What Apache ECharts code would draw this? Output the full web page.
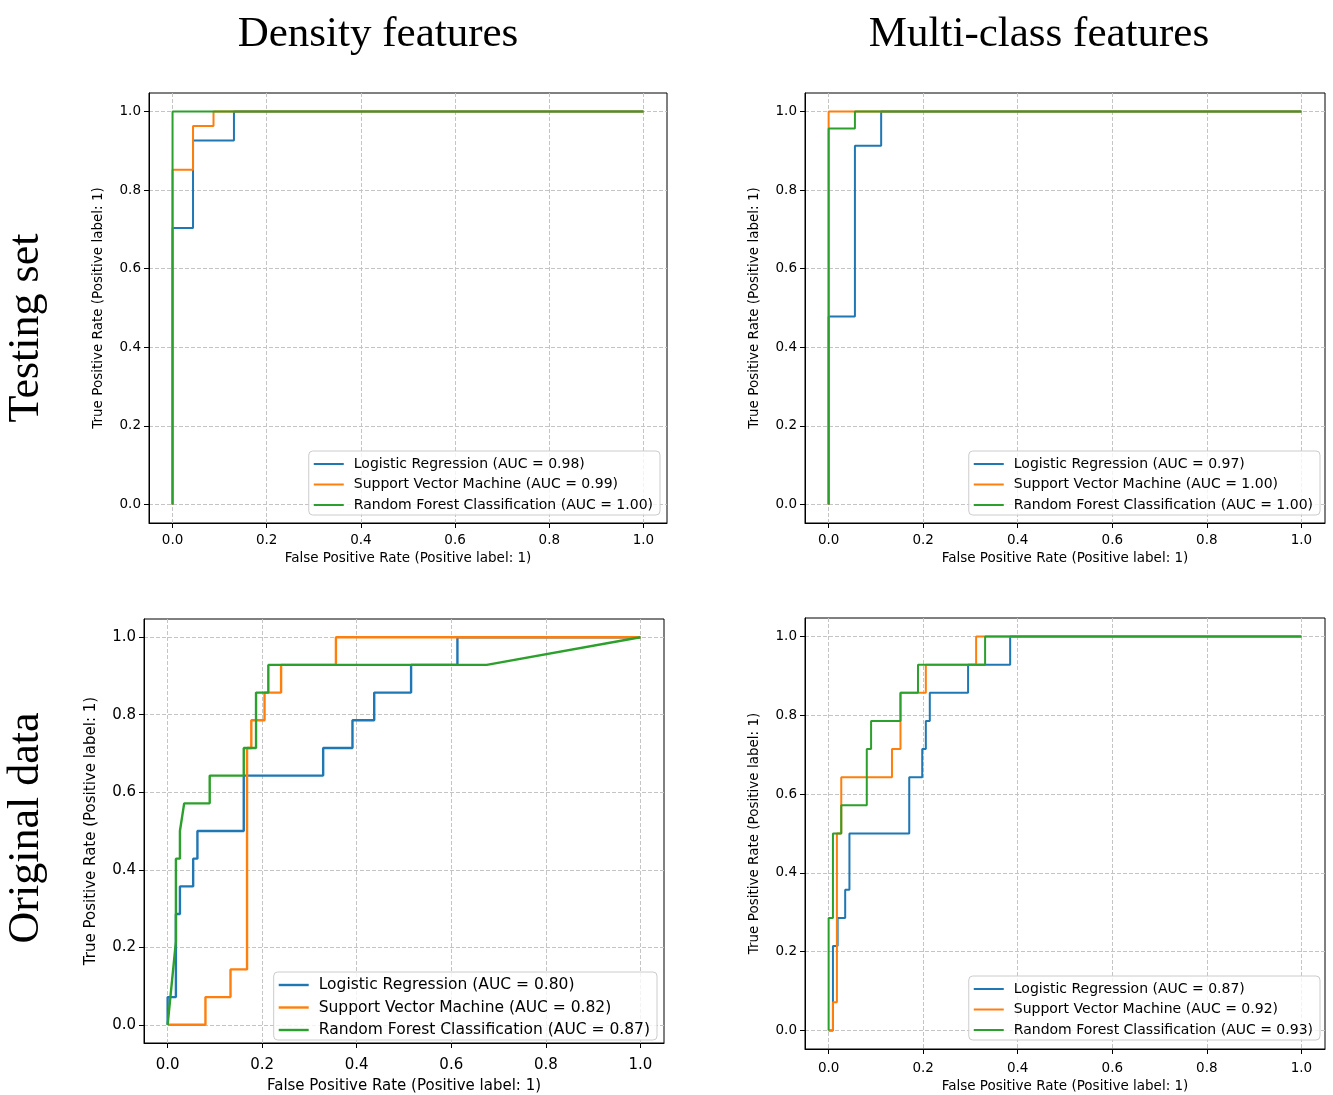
<!DOCTYPE html>
<html><head><meta charset="utf-8">
<script src="https://cdn.jsdelivr.net/npm/echarts@6/dist/echarts.min.js"></script>
<style>html,body{margin:0;padding:0;background:#fff}#c{width:1333px;height:1095px}</style>
</head><body><div id="c"></div>
<script>
// ---- data ----
const tickValues = [0, 0.2, 0.4, 0.6, 0.8, 1.0];
const colTitles = ['Density features', 'Multi-class features'];
const rowTitles = ['Testing set', 'Original data'];
const xName = 'False Positive Rate (Positive label: 1)';
const yName = 'True Positive Rate (Positive label: 1)';

// Testing set / Density features
const tlNames = ['Logistic Regression (AUC = 0.98)', 'Support Vector Machine (AUC = 0.99)', 'Random Forest Classification (AUC = 1.00)'];
const tlLrFpr = [0, 0, 0.0435, 0.0435, 0.1304, 0.1304, 1];
const tlLrTpr = [0, 0.7037, 0.7037, 0.9259, 0.9259, 1, 1];
const tlSvmFpr = [0, 0, 0.0435, 0.0435, 0.087, 0.087, 1];
const tlSvmTpr = [0, 0.8519, 0.8519, 0.963, 0.963, 1, 1];
const tlRfFpr = [0, 0, 1];
const tlRfTpr = [0, 1, 1];

// Testing set / Multi-class features
const trNames = ['Logistic Regression (AUC = 0.97)', 'Support Vector Machine (AUC = 1.00)', 'Random Forest Classification (AUC = 1.00)'];
const trLrFpr = [0, 0, 0.0556, 0.0556, 0.1111, 0.1111, 1];
const trLrTpr = [0, 0.4783, 0.4783, 0.913, 0.913, 1, 1];
const trSvmFpr = [0, 0, 1];
const trSvmTpr = [0, 1, 1];
const trRfFpr = [0, 0, 0.0556, 0.0556, 1];
const trRfTpr = [0, 0.9565, 0.9565, 1, 1];

// Original data / Density features
const blNames = ['Logistic Regression (AUC = 0.80)', 'Support Vector Machine (AUC = 0.82)', 'Random Forest Classification (AUC = 0.87)'];
const blLrFpr = [0, 0, 0.0175, 0.0175, 0.026, 0.026, 0.054, 0.054, 0.063, 0.063, 0.161, 0.161, 0.329, 0.329, 0.391, 0.391, 0.437, 0.437, 0.515, 0.515, 0.613, 0.613, 1];
const blLrTpr = [0, 0.0714, 0.0714, 0.2857, 0.2857, 0.3571, 0.3571, 0.4286, 0.4286, 0.5, 0.5, 0.6429, 0.6429, 0.7143, 0.7143, 0.7857, 0.7857, 0.8571, 0.8571, 0.9286, 0.9286, 1, 1];
const blSvmFpr = [0, 0.08, 0.08, 0.133, 0.133, 0.168, 0.168, 0.177, 0.177, 0.205, 0.205, 0.24, 0.24, 0.356, 0.356, 1];
const blSvmTpr = [0, 0, 0.0714, 0.0714, 0.1429, 0.1429, 0.7143, 0.7143, 0.7857, 0.7857, 0.8571, 0.8571, 0.9286, 0.9286, 1, 1];
const blRfFpr = [0, 0.0175, 0.0175, 0.026, 0.026, 0.035, 0.089, 0.089, 0.161, 0.161, 0.187, 0.187, 0.213, 0.213, 0.675, 1];
const blRfTpr = [0, 0.2143, 0.4286, 0.4286, 0.5, 0.5714, 0.5714, 0.6429, 0.6429, 0.7143, 0.7143, 0.8571, 0.8571, 0.9286, 0.9286, 1];

// Original data / Multi-class features
const brNames = ['Logistic Regression (AUC = 0.87)', 'Support Vector Machine (AUC = 0.92)', 'Random Forest Classification (AUC = 0.93)'];
const brLrFpr = [0, 0.0091, 0.0091, 0.019, 0.019, 0.035, 0.035, 0.044, 0.044, 0.1705, 0.1705, 0.198, 0.198, 0.2056, 0.2056, 0.214, 0.214, 0.295, 0.295, 0.384, 0.384, 1];
const brLrTpr = [0, 0, 0.2143, 0.2143, 0.2857, 0.2857, 0.3571, 0.3571, 0.5, 0.5, 0.6429, 0.6429, 0.7143, 0.7143, 0.7857, 0.7857, 0.8571, 0.8571, 0.9286, 0.9286, 1, 1];
const brSvmFpr = [0, 0.0091, 0.0091, 0.0175, 0.0175, 0.0267, 0.0267, 0.134, 0.134, 0.152, 0.152, 0.2056, 0.2056, 0.312, 0.312, 1];
const brSvmTpr = [0, 0, 0.0714, 0.0714, 0.5, 0.5, 0.6429, 0.6429, 0.7143, 0.7143, 0.8571, 0.8571, 0.9286, 0.9286, 1, 1];
const brRfFpr = [0, 0, 0.0091, 0.0091, 0.0267, 0.0267, 0.0807, 0.0807, 0.0898, 0.0898, 0.152, 0.152, 0.189, 0.189, 0.331, 0.331, 1];
const brRfTpr = [0, 0.2857, 0.2857, 0.5, 0.5, 0.5714, 0.5714, 0.7143, 0.7143, 0.7857, 0.7857, 0.8571, 0.8571, 0.9286, 0.9286, 1, 1];

const colors = ['#1f77b4', '#ff7f0e', '#2ca02c'];

// ---- layout ----
const panels = [
  {grid: {left: 149, top: 93, width: 518, height: 430}, fs: 13.5, lfs: 14, lw: 2, names: tlNames,
   curves: [[tlLrFpr, tlLrTpr], [tlSvmFpr, tlSvmTpr], [tlRfFpr, tlRfTpr]],
   legend: {right: 673, bottom: 580}, yGap: 44, xMargin: 10, xGap: 28, pitch: 20.5},
  {grid: {left: 805, top: 93, width: 520, height: 430}, fs: 13.5, lfs: 14, lw: 2, names: trNames,
   curves: [[trLrFpr, trLrTpr], [trSvmFpr, trSvmTpr], [trRfFpr, trRfTpr]],
   legend: {right: 13, bottom: 580}, yGap: 44, xMargin: 10, xGap: 28, pitch: 20.5},
  {grid: {left: 144, top: 619, width: 520, height: 430}, fs: 15, lfs: 15.5, lw: 2.4, names: blNames,
   curves: [[blLrFpr, blLrTpr], [blSvmFpr, blSvmTpr], [blRfFpr, blRfTpr]],
   legend: {right: 676, bottom: 55}, yGap: 45, xMargin: 15, xGap: 36, pitch: 22.5},
  {grid: {left: 805, top: 618, width: 520, height: 431}, fs: 13.5, lfs: 14, lw: 2, names: brNames,
   curves: [[brLrFpr, brLrTpr], [brSvmFpr, brSvmTpr], [brRfFpr, brRfTpr]],
   legend: {right: 13, bottom: 55}, yGap: 44, xMargin: 12, xGap: 30, pitch: 20.5}
];

const FONT = 'DejaVu Sans';
const fmt = v => Number(v).toFixed(1);
const grids = [], xAxes = [], yAxes = [], series = [], legends = [];
panels.forEach((p, i) => {
  grids.push(Object.assign({show: true, borderColor: '#000', borderWidth: 1, backgroundColor: '#fff'}, p.grid));
  const common = {
    gridIndex: i, type: 'value',
    axisLine: {show: true, onZero: false, lineStyle: {color: '#000', width: 1}},
    axisTick: {show: true, inside: false, length: 5, customValues: tickValues, lineStyle: {color: '#000'}},
    axisLabel: {customValues: tickValues, formatter: fmt, color: '#000', fontFamily: FONT, fontSize: p.fs},
    splitLine: {show: true, lineStyle: {color: '#c4c4c4', type: [4, 2], width: 1}},
    nameLocation: 'middle',
    nameTextStyle: {color: '#000', fontFamily: FONT, fontSize: p.fs}
  };
  xAxes.push(Object.assign({}, common, {min: -0.05, max: 1.05, name: xName, nameGap: p.xGap, axisLabel: Object.assign({}, common.axisLabel, {margin: p.xMargin})}));
  yAxes.push(Object.assign({}, common, {min: -0.047, max: 1.047, name: yName, nameGap: p.yGap, axisLabel: Object.assign({}, common.axisLabel, {margin: 8})}));
  p.curves.forEach((c, k) => {
    series.push({
      type: 'line', name: p.names[k], xAxisIndex: i, yAxisIndex: i,
      data: c[0].map((x, j) => [x, c[1][j]]),
      symbol: 'none', showSymbol: false,
      lineStyle: {color: colors[k], width: p.lw},
      itemStyle: {color: colors[k]},
      z: 3 + k, animation: false
    });
  });
  legends.push(Object.assign({
    data: p.names.map(n => ({name: n, icon: 'rect'})), orient: 'vertical', selectedMode: false,
    itemWidth: 30, itemHeight: p.lw, itemGap: p.pitch - 16,
    padding: [5, 7, 2, 5],
    backgroundColor: 'rgba(255,255,255,0.8)', borderColor: '#cccccc', borderWidth: 1, borderRadius: 4,
    textStyle: {color: '#000', fontFamily: FONT, fontSize: p.lfs, lineHeight: 16, padding: [0, 0, 0, 5]}
  }, p.legend));
});

const SERIF = 'Liberation Serif';
const graphics = [
  {type: 'text', x: 378, y: 35, style: {text: colTitles[0], font: '43px "' + SERIF + '"', fill: '#000', align: 'center', verticalAlign: 'middle'}},
  {type: 'text', x: 1039, y: 35, style: {text: colTitles[1], font: '43px "' + SERIF + '"', fill: '#000', align: 'center', verticalAlign: 'middle'}},
  {type: 'text', x: 26, y: 328, rotation: Math.PI / 2, style: {text: rowTitles[0], font: '44px "' + SERIF + '"', fill: '#000', align: 'center', verticalAlign: 'middle'}},
  {type: 'text', x: 26, y: 828, rotation: Math.PI / 2, style: {text: rowTitles[1], font: '44px "' + SERIF + '"', fill: '#000', align: 'center', verticalAlign: 'middle'}}
];

const chart = echarts.init(document.getElementById('c'), null, {renderer: 'canvas'});
chart.setOption({
  animation: false, backgroundColor: '#fff',
  grid: grids, xAxis: xAxes, yAxis: yAxes, series: series, legend: legends, graphic: graphics
});
</script></body></html>
